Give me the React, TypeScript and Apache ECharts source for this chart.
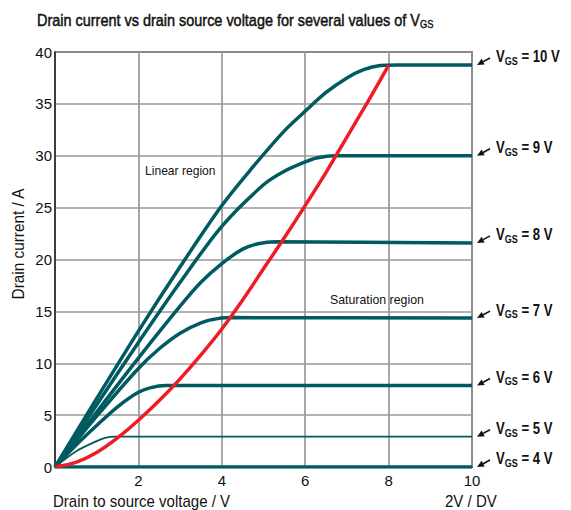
import { useEffect, useRef } from 'react';
import * as echarts from 'echarts';

const FONT = "'Liberation Sans', Arial, Helvetica, sans-serif";

// Drain-source voltage (V), drain current (A)
const vgs10: number[][] = [[0, 0], [1, 6.6], [2, 13.1], [3, 19.3], [4, 25.2], [4.7, 28.7], [5.5, 32.4], [6, 34.3], [6.5, 36.1], [7, 37.5], [7.4, 38.3], [7.8, 38.7], [8.2, 38.75], [10, 38.75]];
const vgs9: number[][] = [[0, 0], [1, 6.0], [2, 12.0], [3, 17.8], [4, 23.2], [5, 27.2], [5.5, 28.5], [6, 29.4], [6.3, 29.8], [6.7, 30.0], [10, 30.0]];
const vgs8: number[][] = [[0, 0], [1, 5.3], [2, 10.5], [3, 15.5], [3.5, 17.8], [4, 19.6], [4.5, 21.0], [4.9, 21.55], [5.3, 21.7], [10, 21.6]];
const vgs7: number[][] = [[0, 0], [1, 4.9], [2, 9.5], [2.5, 11.4], [3, 12.9], [3.5, 13.9], [3.9, 14.3], [4.3, 14.4], [10, 14.35]];
const vgs6: number[][] = [[0, 0], [0.5, 2.1], [1, 4.0], [1.5, 5.8], [2, 7.2], [2.3, 7.65], [2.65, 7.85], [10, 7.85]];
const vgs5: number[][] = [[0, 0], [0.5, 1.5], [1, 2.5], [1.2, 2.8], [1.45, 2.92], [10, 2.92]];
const vgs4: number[][] = [[0, 0], [10, 0]];
const saturationBoundary: number[][] = [[0, 0], [0.5, 0.45], [1, 1.4], [1.5, 2.8], [2, 4.5], [2.5, 6.4], [3, 8.5], [3.5, 10.8], [4, 13.3], [4.5, 16.1], [5, 19.1], [5.5, 22.1], [6, 25.2], [6.5, 28.4], [7, 31.8], [7.5, 35.2], [8, 38.7]];

const vgsValues = ['10', '9', '8', '7', '6', '5', '4'];
const curves = [vgs10, vgs9, vgs8, vgs7, vgs6, vgs5, vgs4];
const lineWidths = [3.5, 3.5, 3.5, 3.5, 3.5, 1.8, 3.5];

const xTicks = [2, 4, 6, 8, 10];

const TEAL = '#005b60';
const RED = '#ee1c25';

export default function App() {
  const ref = useRef<HTMLDivElement>(null);
  useEffect(() => {
    const chart = echarts.init(ref.current!, null, { renderer: 'svg' });
    const series: any[] = curves.map((d, i) => ({
      type: 'line',
      name: 'VGS ' + vgsValues[i],
      data: d,
      smooth: 0.3,
      symbol: 'none',
      lineStyle: { color: TEAL, width: lineWidths[i] },
      z: 3,
    }));
    series.push({
      type: 'line',
      name: 'boundary',
      data: saturationBoundary,
      smooth: 0.3,
      symbol: 'none',
      lineStyle: { color: RED, width: 3.5 },
      z: 4,
    });
    chart.setOption({
      animation: false,
      grid: {
        left: 55,
        right: 99,
        top: 52,
        bottom: 43,
        show: true,
        borderColor: '#222',
        borderWidth: 1.5,
        containLabel: false,
      },
      xAxis: {
        type: 'value',
        min: 0,
        max: 10,
        interval: 2,
        axisLine: { show: true, lineStyle: { color: '#222', width: 1.5 } },
        axisTick: { show: false },
        axisLabel: {
          margin: 6,
          fontSize: 15,
          fontFamily: FONT,
          color: '#111',
          formatter: (v: number) => (xTicks.indexOf(v) >= 0 ? String(v) : ''),
        },
        splitLine: { show: true, lineStyle: { color: '#999', width: 1.7 } },
      },
      yAxis: {
        type: 'value',
        min: 0,
        max: 40,
        interval: 5,
        axisLine: { show: true, lineStyle: { color: '#222', width: 1.5 } },
        axisTick: { show: false },
        axisLabel: { margin: 3, fontSize: 15, fontFamily: FONT, color: '#111' },
        splitLine: { show: true, lineStyle: { color: '#999', width: 1.7 } },
      },
      series,
    });

    const graphics: any[] = [
      {
        type: 'text',
        x: 37,
        y: 20,
        scaleX: 0.85,
        style: {
          text: '{a|Drain current vs drain source voltage for several values of V}{b|GS}',
          align: 'left',
          verticalAlign: 'middle',
          rich: {
            a: { fontSize: 17, fontFamily: FONT, fill: '#111', stroke: '#111', lineWidth: 0.5 },
            b: { fontSize: 11, fontFamily: FONT, fill: '#111', stroke: '#111', lineWidth: 0.4, padding: [8, 0, 0, 0] },
          },
        },
      },
      {
        type: 'text',
        x: 18,
        y: 244,
        rotation: Math.PI / 2,
        scaleX: 0.96,
        style: { text: 'Drain current / A', fontSize: 16, fontFamily: FONT, fill: '#111', align: 'center', verticalAlign: 'middle' },
      },
      {
        type: 'text',
        x: 53,
        y: 501,
        scaleX: 0.94,
        style: { text: 'Drain to source voltage / V', fontSize: 16, fontFamily: FONT, fill: '#111', align: 'left', verticalAlign: 'middle' },
      },
      {
        type: 'text',
        x: 445,
        y: 501,
        scaleX: 0.94,
        style: { text: '2V / DV', fontSize: 16, fontFamily: FONT, fill: '#111', align: 'left', verticalAlign: 'middle' },
      },
      {
        type: 'text',
        x: 145,
        y: 171,
        scaleX: 0.93,
        style: { text: 'Linear region', fontSize: 13, fontFamily: FONT, fill: '#111', align: 'left', verticalAlign: 'middle' },
      },
      {
        type: 'text',
        x: 330,
        y: 300,
        scaleX: 0.95,
        style: { text: 'Saturation region', fontSize: 13, fontFamily: FONT, fill: '#111', align: 'left', verticalAlign: 'middle' },
      },
    ];

    curves.forEach((d, i) => {
      const last = d[d.length - 1];
      const p = chart.convertToPixel({ gridIndex: 0 }, last) as number[];
      const tip = [p[0] + 5, p[1]];
      const tail = [p[0] + 18, p[1] - 7];
      const dx = tip[0] - tail[0];
      const dy = tip[1] - tail[1];
      const len = Math.sqrt(dx * dx + dy * dy);
      const ux = dx / len;
      const uy = dy / len;
      const nx = -uy;
      const ny = ux;
      const hl = 7;
      const hw = 3.2;
      const bx = tip[0] - ux * hl;
      const by = tip[1] - uy * hl;
      graphics.push({
        type: 'line',
        shape: { x1: tail[0], y1: tail[1], x2: bx, y2: by },
        style: { stroke: '#111', lineWidth: 1.6 },
      });
      graphics.push({
        type: 'polygon',
        shape: { points: [tip, [bx + nx * hw, by + ny * hw], [bx - nx * hw, by - ny * hw]] },
        style: { fill: '#111' },
      });
      graphics.push({
        type: 'text',
        x: p[0] + 24,
        y: p[1] - 8,
        scaleX: 0.82,
        style: {
          text: '{v|V}{s|GS}{v| = ' + vgsValues[i] + ' V}',
          align: 'left',
          verticalAlign: 'middle',
          rich: {
            v: { fontSize: 16, fontWeight: 'bold', fontFamily: FONT, fill: '#111' },
            s: { fontSize: 11, fontWeight: 'bold', fontFamily: FONT, fill: '#111', padding: [8, 0, 0, 0] },
          },
        },
      });
    });

    chart.setOption({ graphic: graphics });
    return () => chart.dispose();
  }, []);
  return <div ref={ref} style={{ width: 571, height: 510, position: 'absolute', left: 0, top: 0 }} />;
}
